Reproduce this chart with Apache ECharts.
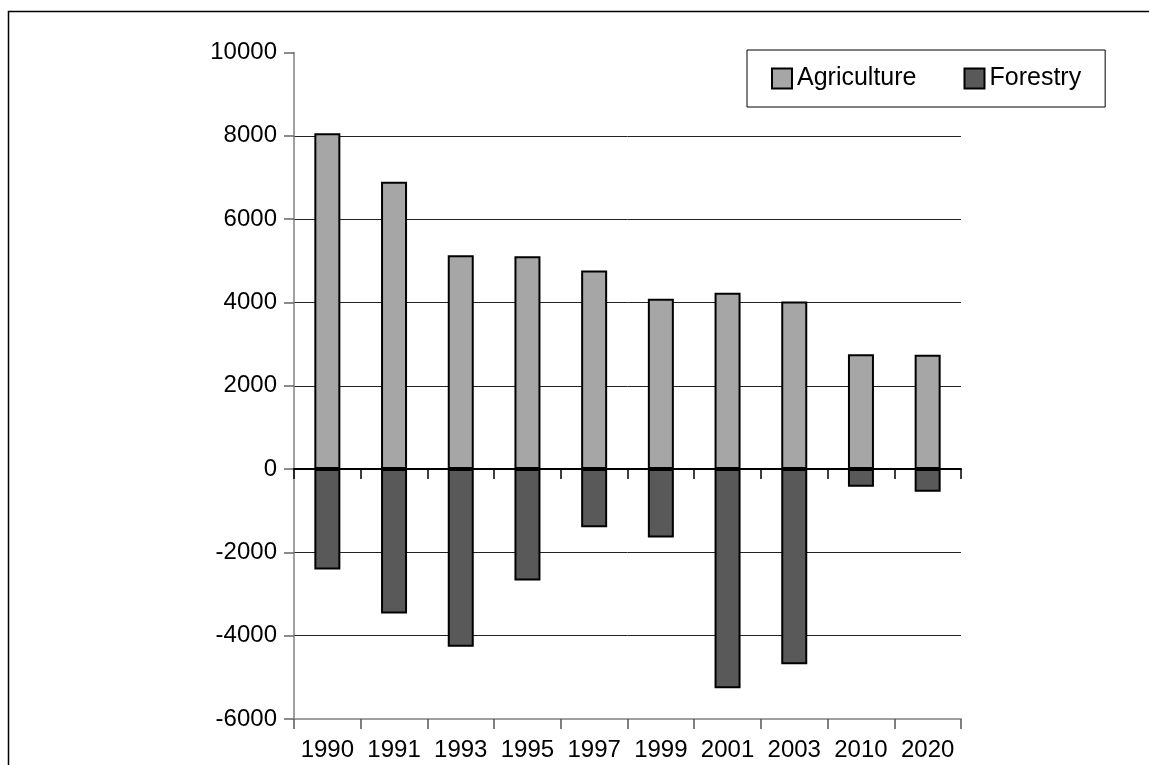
<!DOCTYPE html>
<html>
<head>
<meta charset="utf-8">
<script src="https://cdn.jsdelivr.net/npm/echarts@6/dist/echarts.min.js"></script>
<style>
html,body{margin:0;padding:0;background:#fff;}
#chart{width:1149px;height:765px;}
</style>
</head>
<body>
<div id="chart"></div>
<script>
const categories = ['1990','1991','1993','1995','1997','1999','2001','2003','2010','2020'];
const agriculture = [8060, 6900, 5130, 5110, 4765, 4090, 4235, 4020, 2755, 2745];
const forestry = [-2410, -3465, -4265, -2675, -1395, -1640, -5260, -4685, -425, -545];
const seriesNames = ['Agriculture', 'Forestry'];

const FONT = 'Liberation Sans, Arial, sans-serif';
const chart = echarts.init(document.getElementById('chart'), null, {renderer: 'canvas'});
chart.setOption({
  animation: false,
  backgroundColor: '#ffffff',
  textStyle: {fontFamily: FONT},
  graphic: [{
    type: 'rect',
    shape: {x: 8.5, y: 11.5, width: 1300, height: 900},
    style: {fill: 'none', stroke: '#000', lineWidth: 1.5},
    z: 100
  }],
  legend: {
    left: 747, top: 50,
    padding: [16, 24, 16, 24],
    itemGap: 47,
    itemWidth: 20, itemHeight: 20,
    borderColor: '#000', borderWidth: 1,
    icon: 'rect',
    textStyle: {fontFamily: FONT, fontSize: 25, color: '#000'},
    data: seriesNames
  },
  grid: {left: 294, right: 188, top: 52.5, bottom: 46, containLabel: false},
  xAxis: [{
    type: 'category',
    data: categories,
    position: 'bottom',
    z: 10,
    axisLine: {onZero: true, lineStyle: {color: '#000', width: 2}},
    axisTick: {show: true, length: 10, lineStyle: {color: '#000', width: 1.5}},
    axisLabel: {show: false},
    splitLine: {show: false}
  }, {
    type: 'category',
    data: categories,
    position: 'bottom',
    z: 10,
    axisLine: {onZero: false, lineStyle: {color: '#808080', width: 1.5}},
    axisTick: {show: true, interval: 0, length: 10, lineStyle: {color: '#555', width: 1.5}},
    axisLabel: {show: true, interval: 0, fontFamily: FONT, fontSize: 24, color: '#000', margin: 19},
    splitLine: {show: false}
  }],
  yAxis: {
    type: 'value',
    min: -6000, max: 10000, interval: 2000,
    axisLine: {show: true, lineStyle: {color: '#808080', width: 1.5}},
    axisTick: {show: true, length: 10, lineStyle: {color: '#666', width: 1.5}},
    axisLabel: {fontFamily: FONT, fontSize: 24, color: '#000', margin: 17, formatter: function (v) { return String(v); }},
    splitLine: {show: true, showMinLine: false, showMaxLine: false, lineStyle: {color: '#222', width: 1}}
  },
  series: [{
    name: seriesNames[0],
    type: 'bar',
    stack: 'total',
    xAxisIndex: 0,
    data: agriculture,
    barWidth: 26,
    itemStyle: {color: '#a6a6a6', borderColor: '#000', borderWidth: 2}
  }, {
    name: seriesNames[1],
    type: 'bar',
    stack: 'total',
    xAxisIndex: 0,
    data: forestry,
    barWidth: 26,
    itemStyle: {color: '#595959', borderColor: '#000', borderWidth: 2}
  }]
});
</script>
</body>
</html>
